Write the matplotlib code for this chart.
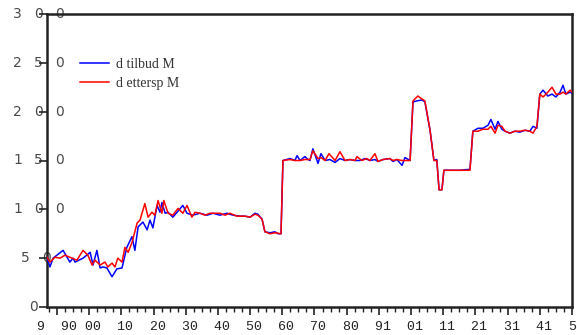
import matplotlib
matplotlib.use("Agg")
import matplotlib.pyplot as plt
from matplotlib.ticker import MultipleLocator, FixedLocator, FixedFormatter
from matplotlib.transforms import blended_transform_factory

# ---------------- data ----------------
series_names = ["d tilbud M", "d ettersp M"]

t_supply = [-0.31, -0.22, -0.12, 0.19, 0.40, 0.50, 0.56, 0.81, 1.03, 1.12, 1.24, 1.34, 1.43, 1.55, 1.71,
            1.86, 2.02, 2.17, 2.33, 2.42, 2.52, 2.67, 2.80, 2.89, 2.98, 3.11, 3.20, 3.26, 3.36, 3.45,
            3.60, 3.73, 3.91, 4.04, 4.22, 4.44, 4.66, 4.85, 5.06, 5.28, 5.47, 5.68, 5.84, 6.00, 6.15,
            6.24, 6.37, 6.46, 6.62, 6.77, 6.87, 6.96, 7.02, 7.24, 7.39, 7.46, 7.55, 7.70, 7.80, 7.86,
            7.95, 8.11, 8.20, 8.33, 8.48, 8.64, 8.79, 8.95, 9.10, 9.26, 9.41, 9.57, 9.72, 9.88, 9.97,
            10.13, 10.34, 10.44, 10.56, 10.72, 10.81, 10.97, 11.06, 11.18, 11.34, 11.43, 11.59, 11.71,
            11.80, 11.87, 11.96, 12.02, 12.21, 12.52, 12.83, 12.92, 13.08, 13.23, 13.39, 13.48, 13.61,
            13.70, 13.82, 13.92, 14.07, 14.23, 14.38, 14.54, 14.69, 14.79, 14.91, 15.00, 15.10, 15.25,
            15.38, 15.50, 15.63, 15.72, 15.81, 15.94, 16.00]
supply = [51, 41, 50, 58, 46, 50, 46, 50, 56, 43, 58, 40, 41, 40, 31, 39, 40, 61, 72, 58,
          82, 87, 79, 89, 81, 104, 97, 107, 96, 97, 92, 97, 104, 96, 94, 96, 94, 96, 94, 96,
          94, 93, 93, 92, 96, 95, 90, 77, 76, 77, 75, 75, 150, 152, 150, 155, 150, 154, 151, 150,
          162, 147, 157, 150, 151, 148, 152, 150, 151, 150, 150, 152, 150, 151, 149, 151, 152, 149, 151, 145,
          153, 150, 210, 211, 212, 210, 181, 150, 151, 120, 120, 140, 140, 140, 141, 180, 183, 183, 186, 192,
          182, 190, 182, 180, 178, 180, 179, 181, 180, 185, 183, 218, 222, 216, 218, 215, 220, 227, 218, 220,
          219]

t_demand = [-0.31, -0.22, -0.06, 0.09, 0.25, 0.47, 0.62, 0.81, 0.96, 1.09, 1.18, 1.34, 1.49, 1.58, 1.71,
            1.80, 1.89, 2.02, 2.11, 2.21, 2.33, 2.49, 2.58, 2.73, 2.83, 2.95, 3.04, 3.14, 3.26, 3.32,
            3.45, 3.60, 3.76, 3.91, 4.04, 4.19, 4.29, 4.44, 4.60, 4.75, 4.91, 5.06, 5.22, 5.37, 5.59,
            5.84, 6.00, 6.15, 6.24, 6.37, 6.46, 6.62, 6.77, 6.96, 7.02, 7.24, 7.39, 7.55, 7.70, 7.86,
            7.95, 8.11, 8.20, 8.33, 8.45, 8.64, 8.79, 8.95, 9.10, 9.26, 9.32, 9.47, 9.63, 9.72, 9.88,
            9.97, 10.13, 10.34, 10.44, 10.56, 10.72, 10.81, 10.97, 11.06, 11.21, 11.34, 11.43, 11.59,
            11.71, 11.80, 11.87, 11.96, 12.02, 12.21, 12.52, 12.83, 12.92, 13.08, 13.23, 13.39, 13.48,
            13.61, 13.70, 13.82, 13.92, 14.07, 14.23, 14.38, 14.54, 14.69, 14.79, 14.91, 15.00, 15.10,
            15.25, 15.38, 15.50, 15.63, 15.72, 15.81, 15.94, 16.00]
demand = [51, 46, 51, 50, 53, 50, 48, 58, 53, 43, 48, 43, 46, 41, 45, 41, 50, 46, 61, 56,
          66, 86, 89, 106, 92, 97, 94, 109, 96, 109, 96, 94, 101, 96, 104, 92, 97, 96, 94, 96,
          96, 96, 94, 96, 93, 93, 92, 95, 94, 90, 77, 75, 76, 75, 150, 151, 150, 150, 151, 151,
          160, 152, 153, 150, 157, 150, 159, 150, 151, 150, 154, 150, 152, 150, 157, 149, 151, 152, 150, 151,
          150, 150, 150, 211, 216, 213, 211, 181, 150, 150, 120, 120, 140, 140, 140, 140, 180, 180, 182, 182,
          185, 178, 186, 185, 180, 178, 180, 180, 181, 180, 178, 185, 218, 215, 220, 225, 218, 218, 220, 218,
          222, 220]

x_major = list(range(0, 17))
x_labels = ["9  90", " 00", " 10", " 20", " 30", " 40", " 50", " 60", " 70", " 80", " 91",
            " 01", " 11", " 21", " 31", " 41", "5"]
y_ticks = [0, 50, 100, 150, 200, 250, 300]
y_labels = ["0", "50", "100", "150", "200", "250", "300"]

# ---------------- figure ----------------
W, H = 577, 335
fig = plt.figure(figsize=(W / 100, H / 100), dpi=100)
ax = fig.add_axes([47 / W, 1 - 307 / H, (572 - 47) / W, (307 - 14) / H])

ax.plot(t_supply, supply, color="#0000ff", lw=1.1, label=series_names[0], zorder=3)
ax.plot(t_demand, demand, color="#ff0000", lw=1.1, label=series_names[1], zorder=4)

ax.set_xlim(-0.31, 16.0)
ax.set_ylim(0, 300)

for s in ax.spines.values():
    s.set_linewidth(1.8)
    s.set_color("#222222")

ax.xaxis.set_major_locator(FixedLocator(x_major))
ax.xaxis.set_major_formatter(FixedFormatter(x_labels))
ax.xaxis.set_minor_locator(MultipleLocator(0.25))
ax.tick_params(axis="x", which="major", length=6, width=1.2, direction="out", pad=4,
               labelsize=9.5, colors="#222222")
ax.tick_params(axis="x", which="minor", length=3.5, width=1.0, direction="out", colors="#222222")
for lab in ax.get_xticklabels():
    lab.set_fontfamily("Liberation Mono")

ax.set_yticks(y_ticks)
ax.set_yticklabels([])
ax.tick_params(axis="y", which="major", length=6, width=1.2, direction="out", colors="#222222")

# y labels drawn character by character with wide spacing, straddling the spine
trans = blended_transform_factory(fig.transFigure, ax.transData)
for v, lab in zip(y_ticks, y_labels):
    n = len(lab)
    center = 31 + 2.5 * n
    for i, ch in enumerate(lab):
        cx = center + (i - (n - 1) / 2) * 21
        ax.text(cx / W, v, ch, transform=trans, ha="center", va="center",
                fontsize=10, color="#4a4a4a", family="DejaVu Sans",
                clip_on=False, zorder=0.5)

leg = ax.legend(loc="upper left", bbox_to_anchor=(80 / W, 1 - 58 / H),
                bbox_transform=fig.transFigure, frameon=False, borderpad=0,
                borderaxespad=0, handlelength=2.1, handletextpad=0.5,
                labelspacing=0.4, prop={"family": "Liberation Serif", "size": 10})
for txt in leg.get_texts():
    txt.set_color("#333333")

fig.savefig("out.png", dpi=100)
